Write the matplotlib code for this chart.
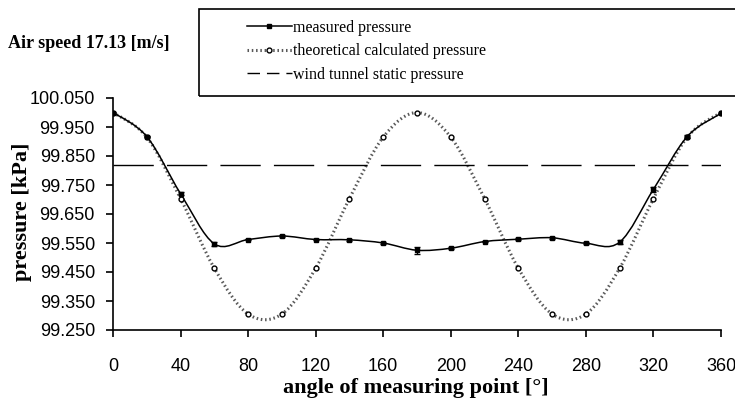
import matplotlib
matplotlib.use("Agg")
import numpy as np
import matplotlib.pyplot as plt
from matplotlib.path import Path
from matplotlib.patches import PathPatch, Rectangle
from matplotlib.lines import Line2D

# data
angle = [0, 20, 40, 60, 80, 100, 120, 140, 160, 180,
         200, 220, 240, 260, 280, 300, 320, 340, 360]
measured = [100.00, 99.917, 99.72, 99.547, 99.562, 99.574, 99.562, 99.561, 99.550, 99.525,
            99.532, 99.555, 99.563, 99.568, 99.549, 99.553, 99.735, 99.917, 99.997]
measured_err = [0.003, 0.003, 0.005, 0.006, 0.003, 0.003, 0.003, 0.003, 0.003, 0.012,
                0.003, 0.003, 0.003, 0.003, 0.003, 0.006, 0.008, 0.006, 0.003]
theoretical = [100.00, 99.915, 99.703, 99.463, 99.305, 99.305, 99.463, 99.703, 99.915, 100.00,
               99.915, 99.703, 99.463, 99.305, 99.305, 99.463, 99.703, 99.915, 100.00]
static_angle = [0, 360]
static_p = [99.82, 99.82]

yticks = [99.25, 99.35, 99.45, 99.55, 99.65, 99.75, 99.85, 99.95, 100.05]
xticks = [0, 40, 80, 120, 160, 200, 240, 280, 320, 360]

SERIF = "Liberation Serif"
TICKFONT = "Liberation Sans"


def smooth_path(x, y):
    # Excel-style smoothed line: cubic Bezier segments through every point
    x = np.asarray(x, float)
    y = np.asarray(y, float)
    pts = np.column_stack([x, y])
    n = len(pts)
    verts = [pts[0]]
    codes = [Path.MOVETO]
    for i in range(n - 1):
        p0 = pts[i - 1] if i > 0 else pts[i]
        p1 = pts[i]
        p2 = pts[i + 1]
        p3 = pts[i + 2] if i + 2 < n else pts[i + 1]
        verts += [p1 + (p2 - p0) / 6, p2 - (p3 - p1) / 6, p2]
        codes += [Path.CURVE4] * 3
    return Path(verts, codes)


fig = plt.figure(figsize=(7.35, 3.99), dpi=100)
ax = fig.add_axes([113 / 735, 1 - 330 / 399, 608 / 735, 232 / 399])

# theoretical (dotted, thick)
ax.add_patch(PathPatch(smooth_path(angle, theoretical), fill=False,
                       ec="0.35", lw=2.2, ls=(0, (0.5, 0.9))))
ax.plot(angle, theoretical, ls="none", marker="o", ms=3.5, mfc="white",
        mec="black", mew=1.0)

# measured
ax.add_patch(PathPatch(smooth_path(angle, measured), fill=False,
                       ec="black", lw=1.1))
ax.errorbar(angle, measured, yerr=measured_err, fmt="s", ms=3.4,
            color="black", ecolor="black", elinewidth=0.9, capsize=2.5)

# wind tunnel static pressure
ax.plot(static_angle, static_p, color="black", lw=1.0, dashes=(29, 9.5))

ax.set_xlim(0, 360)
ax.set_ylim(99.25, 100.05)
ax.set_xticks(xticks)
ax.set_yticks(yticks)
ax.set_yticklabels([f"{v:.3f}" for v in yticks])
for s in ("top", "right"):
    ax.spines[s].set_visible(False)
for s in ("left", "bottom"):
    ax.spines[s].set_linewidth(1.2)
ax.tick_params(axis="both", direction="out", length=5, width=1.2)
ax.tick_params(axis="x", pad=15)
ax.tick_params(axis="y", pad=8)
for lab in ax.get_xticklabels() + ax.get_yticklabels():
    lab.set_fontfamily(TICKFONT)
    lab.set_fontsize(13)

ax.set_xlabel("angle of measuring point [°]", family=SERIF, fontsize=16,
              fontweight="bold")
ax.xaxis.set_label_coords((416 - 113) / 608, (330 - 388) / 232)
ax.xaxis.label.set_va("center")
ax.set_ylabel("pressure [kPa]", family=SERIF, fontsize=16,
              fontweight="bold")
ax.yaxis.set_label_coords((22 - 113) / 608, (330 - 212) / 232)
ax.yaxis.label.set_va("center")

fig.text(8 / 735, 1 - 43 / 399, "Air speed 17.13 [m/s]", family=SERIF,
         fontsize=13, fontweight="bold", va="center", ha="left")

# legend box runs off the right edge like the reference
fig.patches.append(Rectangle((199 / 735, 1 - 96 / 399), 560 / 735, 87 / 399,
                             transform=fig.transFigure, fill=False,
                             ec="black", lw=1.2))
handles = [
    Line2D([], [], color="black", lw=1.1, marker="s", ms=3.4),
    Line2D([], [], color="0.35", lw=2.2, ls=(0, (0.5, 0.9)), marker="o",
           ms=3.5, mfc="white", mec="black"),
    Line2D([], [], color="black", lw=1.0, dashes=(9, 5)),
]
labels = ["measured pressure", "theoretical calculated pressure",
          "wind tunnel static pressure"]
fig.legend(handles, labels, loc="upper left",
           bbox_to_anchor=(247 / 735, 1 - 20 / 399), frameon=False,
           prop={"family": SERIF, "size": 11.5}, handlelength=2.8,
           handletextpad=0.05, labelspacing=0.46, borderpad=0, borderaxespad=0)

fig.savefig("out.png", dpi=100, facecolor="white")
